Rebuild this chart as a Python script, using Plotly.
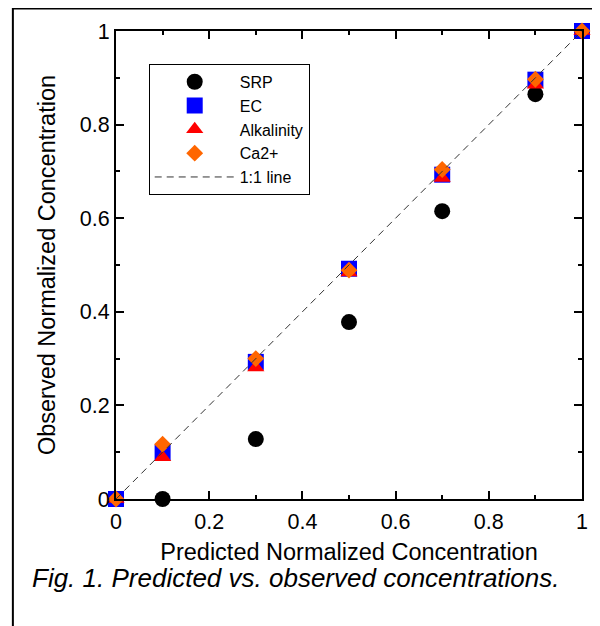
import plotly.graph_objects as go

predicted = [0, 0.1, 0.3, 0.5, 0.7, 0.9, 1.0]
srp = [0, 0, 0.128, 0.378, 0.615, 0.865, 1.0]
ec = [0, 0.099, 0.293, 0.492, 0.693, 0.896, 1.0]
alkalinity = [0, 0.089, 0.281, 0.484, 0.686, 0.885, 1.0]
ca2 = [0, 0.117, 0.300, 0.489, 0.704, 0.897, 1.0]
line_x = [0, 1]
line_y = [0, 1]

FONT = "Liberation Sans, Arial, sans-serif"

fig = go.Figure()
fig.add_trace(go.Scatter(x=predicted, y=srp, mode="markers", name="SRP",
                         marker=dict(symbol="circle", size=16, color="black"),
                         cliponaxis=False))
fig.add_trace(go.Scatter(x=predicted, y=ec, mode="markers", name="EC",
                         marker=dict(symbol="square", size=16, color="#0000ff"),
                         cliponaxis=False))
fig.add_trace(go.Scatter(x=predicted, y=alkalinity, mode="markers", name="Alkalinity",
                         marker=dict(symbol="triangle-up", size=15, color="#ff0000"),
                         cliponaxis=False))
fig.add_trace(go.Scatter(x=predicted, y=ca2, mode="markers", name="Ca2+",
                         marker=dict(symbol="diamond", size=13, color="#ff6600"),
                         cliponaxis=False))
fig.add_trace(go.Scatter(x=line_x, y=line_y, mode="lines", name="1:1 line",
                         line=dict(color="#333333", width=1, dash="7px,5px"),
                         cliponaxis=False))

axis_common = dict(
    range=[0, 1], dtick=0.2, tick0=0,
    showgrid=False, zeroline=False,
    showline=True, linecolor="black", linewidth=2,
    mirror="ticks", ticks="inside", ticklen=8, tickwidth=1.5, tickcolor="black",
    minor=dict(dtick=0.1, ticks="inside", ticklen=4, tickwidth=1.5, tickcolor="black"),
    tickfont=dict(family=FONT, size=21.5, color="black"),
)

# page body has an 8px margin, so the figure is 8px smaller and margins shifted
fig.update_layout(
    width=592, height=618,
    margin=dict(l=108, r=14, t=21, b=127),
    paper_bgcolor="white", plot_bgcolor="white",
    font=dict(family=FONT, color="black"),
    xaxis=dict(**axis_common, ticklabelstandoff=2,
               title=dict(text="Predicted Normalized Concentration",
                          font=dict(family=FONT, size=23.5), standoff=11)),
    yaxis=dict(**axis_common,
               title=dict(text="Observed Normalized Concentration",
                          font=dict(family=FONT, size=23.5), standoff=18)),
    legend=dict(x=0.0702, y=0.9298, xanchor="left", yanchor="top",
                bgcolor="white", bordercolor="black", borderwidth=1,
                font=dict(family=FONT, size=16), itemwidth=80,
                tracegroupgap=0),
    showlegend=True,
    shapes=[dict(type="rect", xref="paper", yref="paper",
                 x0=-0.2213, x1=1.2, y0=-0.5, y1=1.0479,
                 line=dict(color="black", width=2), layer="below")],
    annotations=[dict(text="<i>Fig. 1. Predicted vs. observed concentrations.</i>",
                      xref="paper", yref="paper", x=-0.185, y=-0.168,
                      xanchor="left", yanchor="middle", showarrow=False,
                      font=dict(family=FONT, size=26, color="black"))],
)

fig.write_html("out.html")
